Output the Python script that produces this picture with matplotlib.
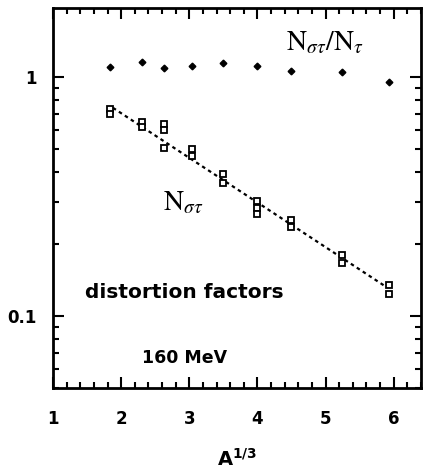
import matplotlib
matplotlib.use("Agg")
import matplotlib.pyplot as plt
from matplotlib.ticker import FixedLocator, LogLocator, NullFormatter, MultipleLocator

# Ratio N_sigma_tau / N_tau (small diamonds)
ratio_x = [1.84, 2.31, 2.63, 3.04, 3.49, 4.00, 4.49, 5.24, 5.93]
ratio_y = [1.10, 1.16, 1.09, 1.12, 1.15, 1.12, 1.06, 1.05, 0.953]

# N_sigma_tau (open squares, pairs)
nst_x = [1.84, 1.84, 2.31, 2.31, 2.63, 2.63, 2.63, 3.04, 3.04, 3.49, 3.49,
         4.00, 4.00, 4.00, 4.49, 4.49, 5.24, 5.24, 5.93, 5.93]
nst_y = [0.734, 0.699, 0.647, 0.617, 0.635, 0.599, 0.508, 0.503, 0.470,
         0.395, 0.362, 0.304, 0.284, 0.268, 0.253, 0.237, 0.180, 0.167,
         0.135, 0.124]

# dashed trend line
line_x = [1.88, 5.90]
line_y = [0.745, 0.132]

x_ticks = [1, 2, 3, 4, 5, 6]
y_ticks = [0.1, 1]
y_ticklabels = ["0.1", "1"]

plt.rcParams["mathtext.fontset"] = "stix"

fig = plt.figure(figsize=(4.23, 4.71), dpi=100)
ax = fig.add_axes([0.1253, 0.1762, 0.8697, 0.8068])

ax.set_yscale("log")
ax.set_xlim(1, 6.4)
ax.set_ylim(0.05, 1.95)

ax.plot(line_x, line_y, color="black", lw=1.6, linestyle=(0, (1.6, 1.6)))
ax.plot(nst_x, nst_y, linestyle="none", marker="s", markersize=4.2,
        mfc="white", mec="black", mew=1.3)
ax.plot(ratio_x, ratio_y, linestyle="none", marker="D", markersize=3.4,
        color="black")

ax.set_xticks(x_ticks)
ax.set_xticklabels([str(v) for v in x_ticks], fontsize=12, fontweight="bold")
ax.xaxis.set_minor_locator(MultipleLocator(0.2))
ax.yaxis.set_major_locator(FixedLocator(y_ticks))
ax.set_yticklabels(y_ticklabels, fontsize=12, fontweight="bold")
ax.yaxis.set_minor_locator(LogLocator(base=10, subs=[2, 3, 4, 5, 6, 7, 8, 9]))
ax.yaxis.set_minor_formatter(NullFormatter())

ax.tick_params(which="both", direction="in", top=True, right=True, width=1.5)
ax.tick_params(axis="x", which="major", length=8, pad=16)
ax.tick_params(axis="y", which="major", length=8, pad=12)
ax.tick_params(which="minor", length=4)
for s in ax.spines.values():
    s.set_linewidth(2)

ax.set_xlabel(r"$\mathbf{A}^{\mathbf{1/3}}$", fontsize=14, labelpad=14,
              math_fontfamily="dejavusans")

ax.text(4.99, 1.40, r"$\mathrm{N}_{\sigma\tau}/\mathrm{N}_{\tau}$",
        fontsize=20, ha="center", va="center")
ax.text(2.91, 0.30, r"$\mathrm{N}_{\sigma\tau}$", fontsize=20,
        ha="center", va="center")
ax.text(1.47, 0.125, "distortion factors", fontsize=14.5, fontweight="bold",
        ha="left", va="center")
ax.text(2.31, 0.067, "160 MeV", fontsize=12.5, fontweight="bold",
        ha="left", va="center")

fig.savefig("out.png", dpi=100)
